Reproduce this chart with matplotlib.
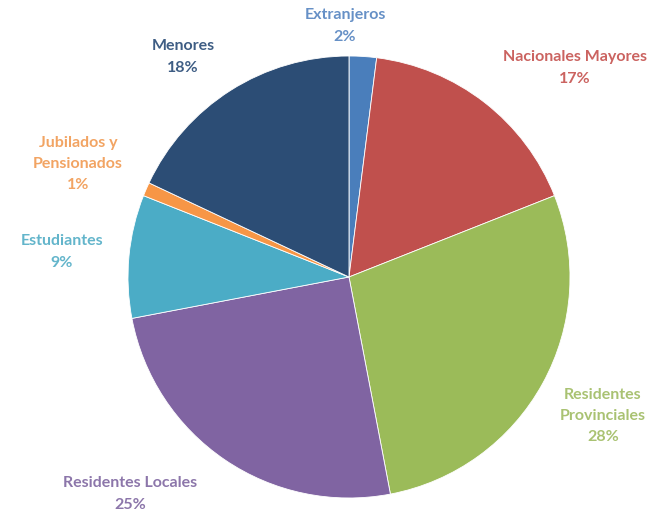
import matplotlib
matplotlib.use("Agg")
import matplotlib.pyplot as plt

categories = ["Extranjeros", "Nacionales Mayores", "Residentes\nProvinciales",
              "Residentes Locales", "Estudiantes", "Jubilados y\nPensionados", "Menores"]
values = [2, 17, 28, 25, 9, 1, 18]
colors = ["#4A7EBB", "#C0504D", "#9BBB59", "#8064A2", "#4BACC6", "#F79646", "#2C4D75"]
text_colors = ["#6690C6", "#CB6360", "#A9C272", "#8C76AA", "#63B5CB", "#F2A463", "#3E5D84"]

W, H = 656, 513
fig = plt.figure(figsize=(W / 100, H / 100), dpi=100)
cx, cy, r = 349, 277, 221
ax = fig.add_axes([(cx - r) / W, (H - cy - r) / H, 2 * r / W, 2 * r / H])
ax.pie(values, colors=colors, startangle=90, counterclock=False, radius=1,
       wedgeprops=dict(linewidth=0.6, edgecolor="white"))
ax.set_xlim(-1, 1)
ax.set_ylim(-1, 1)
ax.set_aspect("equal")
ax.axis("off")

# label block centres in pixel coordinates
label_pos = [(345, 26), (575, 68), (603, 416), (130, 494), (62, 252), (78, 164), (183, 57)]
for cat, val, tc, (px, py) in zip(categories, values, text_colors, label_pos):
    fig.text(px / W, 1 - py / H, f"{cat}\n{val}%", color=tc, ha="center", va="center",
             fontsize=11.5, fontweight="bold", family="Lato", linespacing=1.65)

fig.savefig("out.png", dpi=100, facecolor="white")
